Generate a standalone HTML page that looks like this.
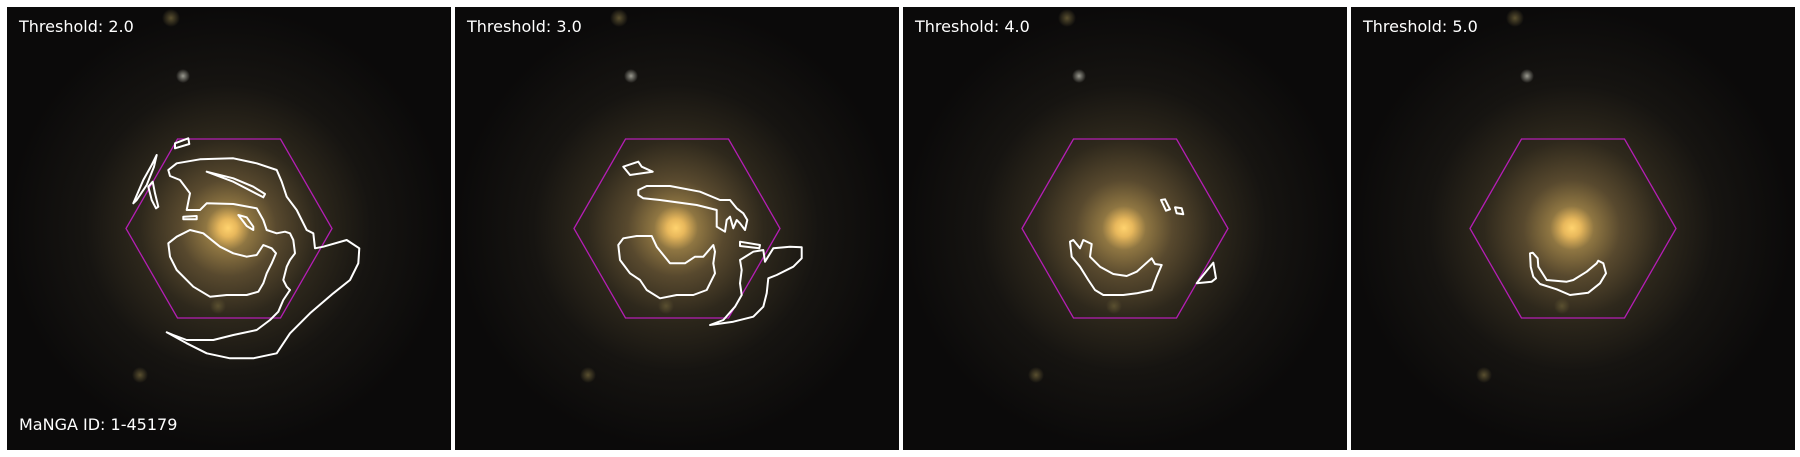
<!DOCTYPE html>
<html><head><meta charset="utf-8"><style>
html,body{margin:0;padding:0;background:#fff;width:1800px;height:457px;overflow:hidden;position:relative;}
svg{display:block;position:absolute;left:0;top:0;}
text{font-family:"DejaVu Sans","Liberation Sans",sans-serif;}
</style></head><body>
<svg id="fig" width="1800" height="457" viewBox="0 0 1800 457" xmlns="http://www.w3.org/2000/svg">
<defs>
<radialGradient id="glow" cx="0.5" cy="0.5" r="0.5">
<stop offset="0" stop-color="#ffd36e"/>
<stop offset="0.04" stop-color="#e8b85c"/>
<stop offset="0.1" stop-color="#8f7642"/>
<stop offset="0.22" stop-color="#58492e"/>
<stop offset="0.4" stop-color="#2e281c"/>
<stop offset="0.65" stop-color="#161411"/>
<stop offset="1" stop-color="#0b0a0a"/>
</radialGradient>
<radialGradient id="star" cx="0.5" cy="0.5" r="0.5">
<stop offset="0" stop-color="#9a9a90"/>
<stop offset="1" stop-color="#9a9a90" stop-opacity="0"/>
</radialGradient>
<radialGradient id="star2" cx="0.5" cy="0.5" r="0.5">
<stop offset="0" stop-color="#5a5030"/>
<stop offset="1" stop-color="#5a5030" stop-opacity="0"/>
</radialGradient>
</defs>
</svg>
<script>
const thresholds = [2.0, 3.0, 4.0, 5.0];
const mangaId = "1-45179";
// contour vertices per panel (pixel coords in a 3x-zoomed frame, with frame offset)
const contoursP1 = [
 [[525,430],[565,415],[568,432],[525,445]],
 [[470,465],[455,495],[430,540],[400,610],[410,600],[440,555],[462,500]],
 [[458,545],[445,560],[455,600],[468,625],[475,620],[465,580]],
 [[505,510],[530,490],[600,478],[700,475],[770,490],[830,510],[845,545],[860,590],[890,630],[905,660],[920,690],[940,700],[945,745],[970,740],[1040,720],[1078,745],[1075,790],[1050,840],[1000,880],[930,940],[870,1000],[830,1060],[760,1075],[690,1075],[620,1060],[560,1030],[500,997],[520,1005],[560,1020],[640,1020],[700,1005],[770,990],[810,960],[835,935],[850,900],[870,870],[860,860],[850,840],[860,800],[870,780],[885,760],[880,720],[870,700],[855,695],[830,700],[800,690],[790,660],[770,625],[700,612],[620,610],[600,630],[560,630],[570,580],[540,540],[510,528]],
 [[620,515],[700,535],[760,560],[795,582],[790,592],[700,545]],
 [[550,650],[590,648],[590,658],[550,658]],
 [[715,645],[740,652],[760,680],[760,690],[740,678]],
 [[505,730],[530,710],[570,690],[610,700],[660,740],[700,760],[740,770],[770,765],[790,735],[815,745],[828,760],[815,790],[800,820],[790,850],[775,875],[740,885],[680,885],[630,890],[580,860],[530,810],[510,770]]
];
const contoursP2 = [
 [[190,140],[235,125],[245,140],[278,155],[210,165]],
 [[235,210],[260,198],[330,198],[420,215],[480,240],[510,240],[530,265],[550,280],[562,300],[555,330],[540,310],[530,300],[520,325],[510,290],[500,300],[495,335],[470,320],[470,270],[410,255],[300,240],[250,235],[235,225]],
 [[175,375],[190,355],[230,348],[275,348],[290,380],[330,430],[375,430],[405,410],[430,410],[460,375],[465,395],[460,430],[465,460],[450,490],[440,510],[400,525],[350,525],[300,535],[260,510],[240,480],[210,460],[180,420]],
 [[540,365],[600,375],[598,385],[540,378]],
 [[540,420],[580,395],[610,390],[615,425],[640,385],[690,380],[725,382],[725,415],[700,440],[650,465],[625,475],[620,520],[610,560],[580,590],[520,605],[450,615],[490,600],[525,560],[545,525],[540,490],[545,450]]
];
const contoursP3 = [
 [[453,240],[465,238],[480,268],[468,272]],
 [[495,262],[515,265],[520,283],[500,280]],
 [[180,365],[190,360],[210,385],[220,360],[245,372],[240,410],[270,440],[310,462],[350,468],[380,455],[425,415],[435,432],[455,435],[440,470],[425,510],[380,520],[340,525],[280,525],[255,510],[235,480],[210,440],[185,410]],
 [[560,490],[580,465],[610,428],[618,475],[605,485]]
];
const contoursP4 = [
 [[210,400],[218,398],[233,415],[235,440],[260,480],[320,485],[340,480],[380,455],[410,430],[415,422],[430,430],[438,460],[420,490],[385,518],[330,525],[290,508],[240,492],[220,470],[212,440]]
];
const contourSets = [contoursP1, contoursP2, contoursP3, contoursP4];
const frameOffsets = [[0,0],[560,120],[1010,120],[1460,120]];

const NS = "http://www.w3.org/2000/svg";
const svg = document.getElementById('fig');
const panelX = [7, 455, 903, 1351], panelY = 7, panelW = 444, panelH = 443;
function mk(tag, attrs){const e=document.createElementNS(NS,tag);for(const k in attrs)e.setAttribute(k,attrs[k]);return e;}
function toPx(p, off){return [p[0]/3+off[0], p[1]/3+off[1]];}

thresholds.forEach((t,i)=>{
  const x0 = panelX[i];
  const g = mk('g',{});
  
  
  svg.appendChild(g);
  const clip = mk('clipPath',{id:'c'+i}); clip.appendChild(mk('rect',{x:x0,y:panelY,width:panelW,height:panelH})); svg.appendChild(clip);
  const img = mk('g',{'clip-path':'url(#c'+i+')'});
  
  
  g.appendChild(img);
  img.appendChild(mk('rect',{x:x0,y:panelY,width:panelW,height:panelH,fill:'#0b0a0a'}));
  const cx = x0+221, cy = panelY+221;
  img.appendChild(mk('circle',{cx:cx,cy:cy,r:220,fill:'url(#glow)'}));
  img.appendChild(mk('circle',{cx:x0+176,cy:76,r:7,fill:'url(#star)'}));
  img.appendChild(mk('circle',{cx:x0+164,cy:18,r:9,fill:'url(#star2)'}));
  img.appendChild(mk('circle',{cx:x0+211,cy:306,r:8,fill:'url(#star2)'}));
  img.appendChild(mk('circle',{cx:x0+133,cy:375,r:8,fill:'url(#star2)'}));
  const hx = 103, hy = 89.5, ccx = x0+222, ccy = 228.5;
  const hex = [[ccx-hx,ccy],[ccx-hx/2,ccy-hy],[ccx+hx/2,ccy-hy],[ccx+hx,ccy],[ccx+hx/2,ccy+hy],[ccx-hx/2,ccy+hy]];
  const hp = mk('polygon',{points:hex.map(p=>p.join(',')).join(' '),fill:'none',stroke:'#b41eb4','stroke-width':1.3});
  
  
  img.appendChild(hp);
  contourSets[i].forEach(c=>{
    const pts = c.map(p=>toPx(p, frameOffsets[i]).map(v=>v.toFixed(1)).join(',')).join(' ');
    const pl = mk('polygon',{points:pts,fill:'none',stroke:'#ffffff','stroke-width':2,'stroke-linejoin':'round'});
    
    
    img.appendChild(pl);
  });
  const tt = mk('text',{x:x0+12,y:32,fill:'#ffffff','font-size':16});
  tt.textContent = 'Threshold: ' + t.toFixed(1);
  
  
  g.appendChild(tt);
  if(i===0){
    const id = mk('text',{x:x0+12,y:430,fill:'#ffffff','font-size':16});
    id.textContent = 'MaNGA ID: ' + mangaId;
    
    
    g.appendChild(id);
  }
});
</script>
</body></html>
